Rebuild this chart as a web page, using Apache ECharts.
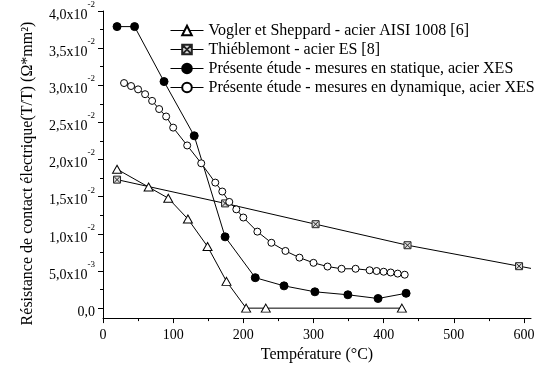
<!DOCTYPE html>
<html>
<head>
<meta charset="utf-8">
<script src="https://cdn.jsdelivr.net/npm/echarts@6/dist/echarts.min.js"></script>
<style>html,body{margin:0;padding:0;background:#fff;}#c{width:554px;height:368px;}</style>
</head>
<body>
<div id="c"></div>
<script>
// ---- data ----
const seriesNames = [
  'Vogler et Sheppard - acier AISI 1008 [6]',
  'Thiéblemont - acier ES [8]',
  'Présente étude - mesures en statique, acier XES',
  'Présente étude - mesures en dynamique, acier XES'
];
const voglerX = [20, 65, 93, 121, 149, 176, 204, 232, 426];
const voglerY = [0.0187, 0.0163, 0.0148, 0.0120, 0.0083, 0.0036, 0.0, 0.0, 0.0];

const thieblemontX = [20, 174, 303, 434, 593];
const thieblemontY = [0.0173, 0.0141, 0.0113, 0.00847, 0.00565];
const thieblemontTailX = 610;       // line continues to the axis end without marker
const thieblemontTailY = 0.00535;

const statiqueX = [20, 45, 87, 130, 174, 217, 258, 302, 349, 392, 432];
const statiqueY = [0.0379, 0.0379, 0.0305, 0.0232, 0.0096, 0.0041, 0.0030, 0.0022, 0.0018, 0.0013, 0.0020];

const dynamiqueX = [30, 40, 50, 60, 70, 80, 90, 100, 120, 140, 160, 170, 180, 190, 200, 220, 240, 260, 280, 300, 320, 340, 360, 380, 390, 400, 410, 420, 430];
const dynamiqueY = [0.0303, 0.0299, 0.02945, 0.0288, 0.0279, 0.0268, 0.0258, 0.0243, 0.0219, 0.0195, 0.0169, 0.0157, 0.0143, 0.0133, 0.0122, 0.0103, 0.0088, 0.0077, 0.0068, 0.0061, 0.0056, 0.0053, 0.0053, 0.0051, 0.0050, 0.0049, 0.0048, 0.00465, 0.0045];

const xMajorTicks = [0, 100, 200, 300, 400, 500, 600];
const xMinorTicks = [50, 150, 250, 350, 450, 550];
const yMajorTicks = [0, 0.005, 0.01, 0.015, 0.02, 0.025, 0.03, 0.035, 0.04];
const yMinorTicks = [0.0025, 0.0075, 0.0125, 0.0175, 0.0225, 0.0275, 0.0325, 0.0375];
const yTickMantissa = ['0,0', '5,0x10', '1,0x10', '1,5x10', '2,0x10', '2,5x10', '3,0x10', '3,5x10', '4,0x10'];
const yTickExponent = ['', '-3', '-2', '-2', '-2', '-2', '-2', '-2', '-2'];

const xName = 'Température (°C)';
const yName = 'Résistance de contact électrique(T/T) (Ω*mm²)';

// ---- chart ----
const FONT = 'Liberation Serif';
const pairs = (xs, ys) => xs.map((x, i) => [x, ys[i]]);

const thData = pairs(thieblemontX, thieblemontY);
thData.push({ value: [thieblemontTailX, thieblemontTailY], symbol: 'none' });

const lineBase = {
  type: 'line',
  xAxisIndex: 0,
  yAxisIndex: 0,
  lineStyle: { color: '#000', width: 1 },
  emphasis: { disabled: true },
  animation: false,
  z: 3
};

const chart = echarts.init(document.getElementById('c'), null, { renderer: 'canvas' });
chart.setOption({
  backgroundColor: '#fff',
  animation: false,
  textStyle: { fontFamily: FONT, color: '#000' },
  grid: { left: 103, right: 23, top: 10.7, bottom: 40, containLabel: false },
  legend: {
    orient: 'vertical',
    left: 170,
    top: 22.5,
    padding: 0,
    itemWidth: 33,
    itemHeight: 12,
    itemGap: 3,
    lineStyle: { width: 1, color: '#000' },
    textStyle: { fontFamily: FONT, fontSize: 16, lineHeight: 16, color: '#000', fontWeight: 'normal' },
    data: seriesNames,
    selectedMode: false
  },
  xAxis: [
    {
      type: 'value', min: 0, max: 610, position: 'bottom',
      name: xName, nameLocation: 'middle', nameGap: 22,
      nameTextStyle: { fontFamily: FONT, fontSize: 16, color: '#000' },
      axisLine: { show: true, onZero: false, lineStyle: { color: '#000', width: 1 } },
      axisTick: { show: true, length: 5, customValues: xMajorTicks, lineStyle: { color: '#000' } },
      axisLabel: { customValues: xMajorTicks, margin: 10, fontFamily: FONT, fontSize: 14, color: '#000' },
      splitLine: { show: false }
    },
    {
      type: 'value', min: 0, max: 610, position: 'bottom', offset: 0,
      axisLine: { show: false, onZero: false },
      axisTick: { show: true, length: 3, customValues: xMinorTicks, lineStyle: { color: '#000' } },
      axisLabel: { show: false },
      splitLine: { show: false }
    }
  ],
  yAxis: [
    {
      type: 'value', min: -0.00134, max: 0.04, position: 'left',
      name: yName, nameLocation: 'middle', nameGap: 67, nameRotate: 90,
      nameTextStyle: { fontFamily: FONT, fontSize: 16, color: '#000', padding: [0, 18, 0, 0] },
      axisLine: { show: true, onZero: false, lineStyle: { color: '#000', width: 1 } },
      axisTick: { show: true, length: 5, customValues: yMajorTicks, lineStyle: { color: '#000' } },
      axisLabel: {
        customValues: yMajorTicks, margin: 8, fontFamily: FONT, color: '#000',
        formatter: function (v) {
          let idx = yMajorTicks.findIndex(t => Math.abs(t - v) < 1e-9);
          if (idx < 0) return '';
          if (!yTickExponent[idx]) return '{a|' + yTickMantissa[idx] + '}';
          return '{a|' + yTickMantissa[idx] + '}{s|' + yTickExponent[idx] + '}';
        },
        rich: {
          a: { fontFamily: FONT, fontSize: 14, color: '#000', lineHeight: 22, verticalAlign: 'bottom' },
          s: { fontFamily: FONT, fontSize: 9, color: '#000', lineHeight: 22, verticalAlign: 'top' }
        }
      },
      splitLine: { show: false }
    },
    {
      type: 'value', min: -0.00134, max: 0.04, position: 'left', offset: 0,
      axisLine: { show: false, onZero: false },
      axisTick: { show: true, length: 3, customValues: yMinorTicks, lineStyle: { color: '#000' } },
      axisLabel: { show: false },
      splitLine: { show: false }
    }
  ],
  series: [
    Object.assign({}, lineBase, {
      name: seriesNames[0],
      data: pairs(voglerX, voglerY),
      symbol: 'triangle', symbolSize: [9, 8],
      itemStyle: { color: '#fff', borderColor: '#000', borderWidth: 1 }
    }),
    Object.assign({}, lineBase, {
      name: seriesNames[1],
      data: thData,
      symbol: 'path://M0,0H10V10H0Z M1,1L9,9 M9,1L1,9',
      symbolSize: 7,
      itemStyle: { color: '#ddd', borderColor: '#222', borderWidth: 1 }
    }),
    Object.assign({}, lineBase, {
      name: seriesNames[2],
      data: pairs(statiqueX, statiqueY),
      symbol: 'circle', symbolSize: 8,
      itemStyle: { color: '#000', borderColor: '#000', borderWidth: 1 }
    }),
    Object.assign({}, lineBase, {
      name: seriesNames[3],
      data: pairs(dynamiqueX, dynamiqueY),
      symbol: 'circle', symbolSize: 7,
      itemStyle: { color: '#fff', borderColor: '#000', borderWidth: 1 }
    })
  ]
});
</script>
</body>
</html>
